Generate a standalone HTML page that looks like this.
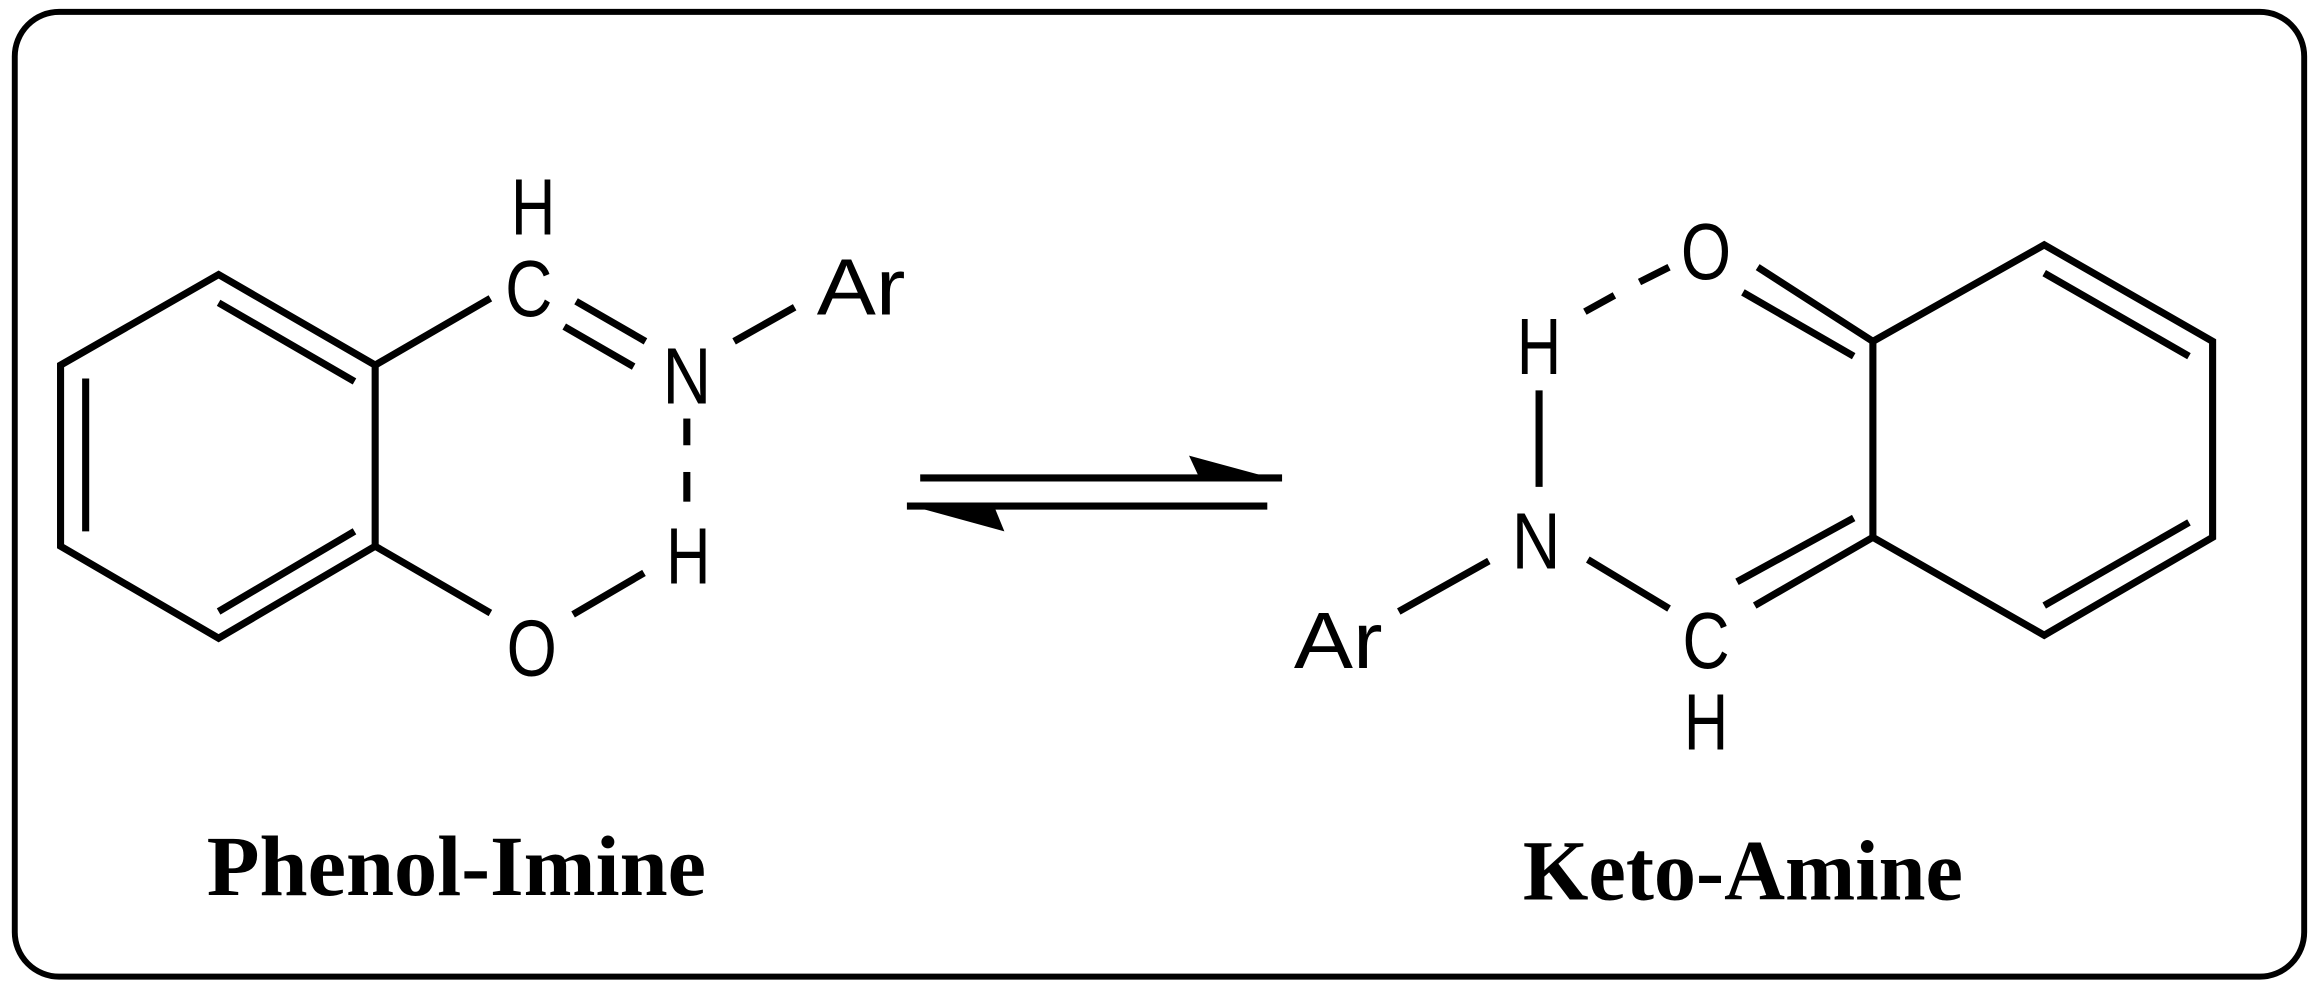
<!DOCTYPE html>
<html><head><style>html,body{margin:0;padding:0;background:#fff}svg{display:block}</style></head><body>
<svg width="2316" height="987" viewBox="0 0 1568 665" preserveAspectRatio="none" xmlns="http://www.w3.org/2000/svg">
<rect x="10" y="8" width="1550" height="650" rx="30" ry="30" fill="none" stroke="#000" stroke-width="4"/>
<g stroke="#000" stroke-width="4.8" fill="none" stroke-linecap="butt">
<polygon points="148,185 254,246 254,368 148,430 41,368 41,246"/>
<line x1="148" y1="204" x2="240" y2="257"/>
<line x1="58" y1="255" x2="58" y2="358"/>
<line x1="148" y1="412" x2="240" y2="358"/>
<line x1="254" y1="246" x2="332" y2="201"/>
<line x1="254" y1="368" x2="332" y2="413"/>
<line x1="390" y1="203" x2="437" y2="230"/>
<line x1="382" y1="220" x2="429" y2="247"/>
<line x1="497" y1="230" x2="538" y2="207"/>
<line x1="465" y1="282" x2="465" y2="300"/>
<line x1="465" y1="318" x2="465" y2="338"/>
<line x1="388" y1="414" x2="436" y2="386"/>
<line x1="623" y1="322" x2="868" y2="322"/>
<line x1="614" y1="341" x2="858" y2="341"/>
<polygon points="1268,230 1384,165 1498,230 1498,362 1384,428 1268,362"/>
<line x1="1384" y1="184" x2="1482" y2="240"/>
<line x1="1482" y1="352" x2="1384" y2="408"/>
<line x1="1190" y1="180" x2="1268" y2="230"/>
<line x1="1180" y1="197" x2="1255" y2="240"/>
<line x1="1188" y1="408" x2="1268" y2="362"/>
<line x1="1176" y1="392" x2="1255" y2="349"/>
<line x1="1073" y1="210" x2="1093" y2="199"/>
<line x1="1110" y1="190" x2="1130" y2="180"/>
<line x1="1042" y1="263" x2="1042" y2="328"/>
<line x1="947" y1="412" x2="1008" y2="378"/>
<line x1="1075" y1="377" x2="1130" y2="410"/>
</g>
<polygon points="805,307 868,324 812,322" fill="#000"/>
<polygon points="614,340 680,358 673,341" fill="#000"/>
<g font-family="Liberation Sans, sans-serif" font-size="54" text-anchor="middle" fill="#000" lengthAdjust="spacingAndGlyphs">
<text x="361" y="158" textLength="30" lengthAdjust="spacingAndGlyphs">H</text>
<text x="358" y="213" textLength="32" lengthAdjust="spacingAndGlyphs">C</text>
<text x="465" y="272" textLength="33" lengthAdjust="spacingAndGlyphs">N</text>
<text x="583" y="212" textLength="60" lengthAdjust="spacingAndGlyphs">Ar</text>
<text x="466" y="393" textLength="30" lengthAdjust="spacingAndGlyphs">H</text>
<text x="360" y="455" textLength="34" lengthAdjust="spacingAndGlyphs">O</text>
<text x="1155" y="188" textLength="34" lengthAdjust="spacingAndGlyphs">O</text>
<text x="1042" y="252" textLength="30" lengthAdjust="spacingAndGlyphs">H</text>
<text x="1040" y="383" textLength="33" lengthAdjust="spacingAndGlyphs">N</text>
<text x="906" y="450" textLength="60" lengthAdjust="spacingAndGlyphs">Ar</text>
<text x="1155" y="450" textLength="32" lengthAdjust="spacingAndGlyphs">C</text>
<text x="1155" y="505" textLength="30" lengthAdjust="spacingAndGlyphs">H</text>
</g>
<g font-family="Liberation Serif, serif" font-weight="bold" font-size="58" text-anchor="middle" fill="#000">
<text x="309" y="603" textLength="338" lengthAdjust="spacingAndGlyphs">Phenol-Imine</text>
<text x="1180" y="606" textLength="298" lengthAdjust="spacingAndGlyphs">Keto-Amine</text>
</g>
</svg>
</body></html>
